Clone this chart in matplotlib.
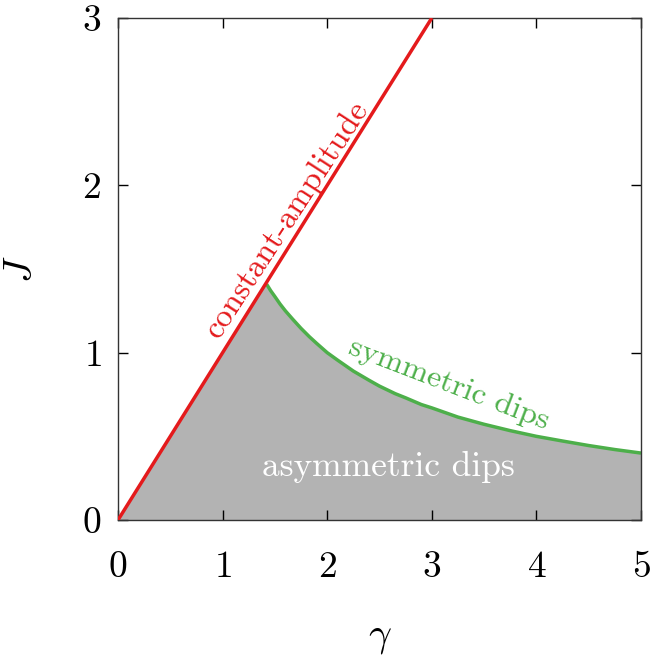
import numpy as np
import matplotlib
matplotlib.use('Agg')
import matplotlib.pyplot as plt

# values
red_gamma = [0.0, 3.0]
red_J = [0.0, 3.0]

green_gamma = [1.42, 1.46, 1.5, 1.55, 1.6, 1.67, 1.75, 1.83, 1.9, 2.0, 2.1, 2.25, 2.4, 2.5, 2.65,
               2.75, 2.9, 3.0, 3.25, 3.5, 3.75, 4.0, 4.25, 4.5, 4.75, 5.0]
green_J = [1.41, 1.37, 1.335, 1.29, 1.25, 1.2, 1.145, 1.095, 1.055, 1.0, 0.955, 0.89, 0.835, 0.80, 0.755,
           0.73, 0.69, 0.67, 0.615, 0.572, 0.534, 0.50, 0.472, 0.445, 0.421, 0.40]

x_ticks = [0, 1, 2, 3, 4, 5]
y_ticks = [0, 1, 2, 3]

plt.rcParams['font.family'] = 'cmr10'
plt.rcParams['mathtext.fontset'] = 'cm'
plt.rcParams['axes.formatter.use_mathtext'] = True

fig = plt.figure(figsize=(6.52, 6.6), dpi=100)
ax = fig.add_axes([118 / 652, 1 - 520 / 660, (641 - 118) / 652, (520 - 18) / 660])

# shaded region under both boundaries
poly_x = [0.0] + green_gamma + [5.0]
poly_y = [0.0] + green_J + [0.0]
ax.fill(poly_x, poly_y, color='#b3b3b3', lw=0, zorder=1)

ax.plot(green_gamma, green_J, color='#4daf4a', lw=2.5, zorder=2,
        solid_capstyle='butt', solid_joinstyle='round')
ax.plot(red_gamma, red_J, color='#e41a1c', lw=2.5, zorder=3, solid_capstyle='butt')

ax.set_xlim(0, 5)
ax.set_ylim(0, 3)
ax.set_xticks(x_ticks)
ax.set_yticks(y_ticks)
ax.tick_params(direction='in', length=7, width=1, top=True, right=True,
               labelsize=27)
ax.tick_params(axis='x', pad=22)
ax.tick_params(axis='y', pad=12)
for s in ax.spines.values():
    s.set_linewidth(1.0)
    s.set_color('#333333')

ax.set_xlabel(r'$\gamma$', fontsize=29, labelpad=26)
ax.set_ylabel(r'$J$', fontsize=29, labelpad=30)

ax.text(1.61, 1.80, 'constant-amplitude', color='#e41a1c', fontsize=23.5,
        rotation=57, ha='center', va='center', rotation_mode='anchor')
ax.text(3.17, 0.81, 'symmetric dips', color='#4daf4a', fontsize=23,
        rotation=-21, ha='center', va='center', rotation_mode='anchor')
ax.text(2.59, 0.32, 'asymmetric dips', color='white', fontsize=25.5,
        ha='center', va='center')

fig.savefig('out.png', dpi=100)
